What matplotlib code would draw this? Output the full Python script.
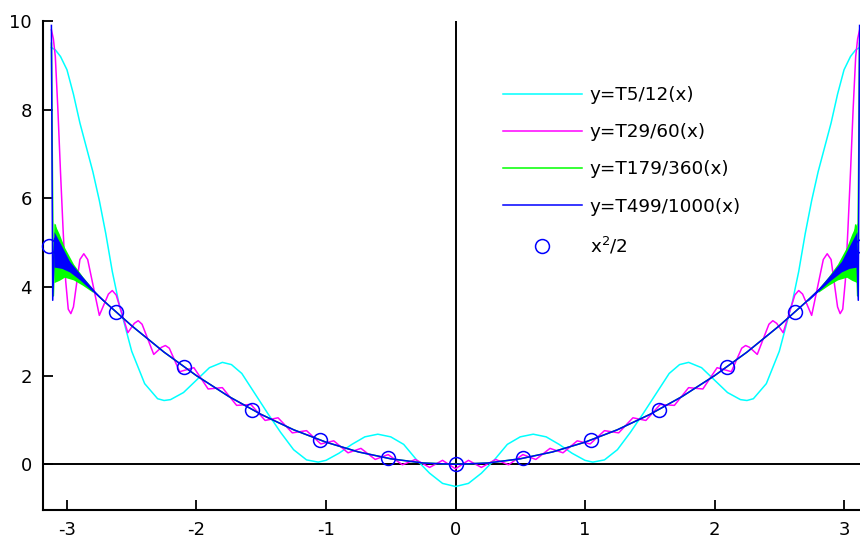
import numpy as np
import matplotlib
matplotlib.use("Agg")
import matplotlib.pyplot as plt

plt.rcParams['axes.unicode_minus'] = False
plt.rcParams['font.family'] = ['DejaVu Sans']

# ---- values (right half, x >= 0; curves are symmetric) ----
cyan_x = [0.0, 0.1, 0.2, 0.3, 0.4, 0.5, 0.6, 0.7, 0.8, 0.9, 1.0, 1.06, 1.15, 1.25,
          1.35, 1.45, 1.55, 1.65, 1.73, 1.8, 1.9, 2.0, 2.1, 2.2, 2.25, 2.3, 2.4,
          2.5, 2.55, 2.6, 2.65, 2.7, 2.75, 2.8, 2.85, 2.9, 2.95, 3.0, 3.05, 3.09, 3.12]
cyan_y = [-0.5, -0.43, -0.2, 0.1, 0.45, 0.62, 0.68, 0.62, 0.45, 0.25, 0.09, 0.05, 0.1, 0.33,
          0.72, 1.15, 1.6, 2.05, 2.25, 2.3, 2.18, 1.9, 1.62, 1.46, 1.44, 1.48, 1.82,
          2.55, 3.1, 3.65, 4.35, 5.2, 5.95, 6.6, 7.15, 7.7, 8.35, 8.9, 9.2, 9.35, 9.4]

magenta_x = [0.0, 0.1, 0.2, 0.31, 0.41, 0.52, 0.62, 0.73, 0.83, 0.94, 1.04, 1.15, 1.26,
             1.37, 1.47, 1.58, 1.69, 1.8, 1.91, 2.02, 2.13, 2.21, 2.24, 2.27, 2.33,
             2.42, 2.45, 2.48, 2.53, 2.62, 2.65, 2.68, 2.75, 2.84, 2.87, 2.9, 2.95, 2.97,
             2.99, 3.01, 3.03, 3.05, 3.07, 3.09, 3.105, 3.12]
magenta_y = [-0.1, 0.09, -0.07, 0.11, -0.01, 0.22, 0.11, 0.36, 0.26, 0.53, 0.46, 0.76, 0.71,
             1.05, 0.99, 1.35, 1.33, 1.73, 1.7, 2.18, 2.09, 2.62, 2.68, 2.64, 2.48,
             3.16, 3.24, 3.18, 2.97, 3.82, 3.92, 3.84, 3.36, 4.62, 4.75, 4.62, 3.55, 3.4,
             3.5, 4.14, 5.3, 6.6, 8.0, 9.2, 9.6, 9.8]

# green and blue lie on top of each other away from the ends
trend_x = [0.0, 0.25, 0.5, 0.75, 1.0, 1.25, 1.5, 1.75, 2.0, 2.25, 2.5, 2.7]
trend_y = [0.0, 0.03, 0.125, 0.28, 0.5, 0.78, 1.125, 1.53, 2.0, 2.53, 3.125, 3.645]

green_end_x = [2.75, 2.85, 2.95, 3.02, 3.06, 3.09, 3.105, 3.12]
green_end_y = [3.78, 4.06, 4.35, 4.56, 4.68, 5.4, 3.8, 9.5]
blue_end_x = [2.8, 2.9, 3.0, 3.05, 3.08, 3.095, 3.11, 3.12]
blue_end_y = [3.92, 4.2, 4.5, 4.65, 4.75, 5.1, 3.7, 9.9]

# envelopes of the dense oscillation near x = +-pi
green_env_x = [2.8, 2.88, 2.95, 3.02, 3.06, 3.1]
green_env_hi = [3.96, 4.24, 4.52, 4.9, 5.2, 5.45]
green_env_lo = [3.88, 4.04, 4.16, 4.22, 4.15, 4.1]
blue_env_x = [2.72, 2.8, 2.9, 2.98, 3.04, 3.1]
blue_env_hi = [3.7, 3.96, 4.3, 4.58, 4.92, 5.25]
blue_env_lo = [3.68, 3.9, 4.16, 4.34, 4.42, 4.45]

circle_x = [-3.1416, -2.618, -2.094, -1.571, -1.047, -0.524, 0.0,
            0.524, 1.047, 1.571, 2.094, 2.618, 3.1416]
circle_y = [4.935, 3.427, 2.193, 1.234, 0.548, 0.137, 0.0,
            0.137, 0.548, 1.234, 2.193, 3.427, 4.935]

labels = ['y=T5/12(x)', 'y=T29/60(x)', 'y=T179/360(x)', 'y=T499/1000(x)', r'x$^2$/2']
colors = ['#00FFFF', '#FF00FF', '#00FF00', '#0000FF']


def mirror(xs, ys):
    """Build the full symmetric curve from its right half."""
    xs = np.asarray(xs, float)
    ys = np.asarray(ys, float)
    if xs[0] == 0:
        return np.concatenate([-xs[::-1], xs[1:]]), np.concatenate([ys[::-1], ys[1:]])
    return np.concatenate([-xs[::-1], xs]), np.concatenate([ys[::-1], ys])


fig = plt.figure(figsize=(8.6, 5.38), dpi=100)
ax = fig.add_axes([43 / 860, 28 / 538, 825 / 860, 489 / 538])

ax.axhline(0, color='black', lw=1.4, zorder=1)
ax.axvline(0, color='black', lw=1.4, zorder=1)

cx, cy = mirror(cyan_x, cyan_y)
ax.plot(cx, cy, color=colors[0], lw=1.1, label=labels[0], zorder=2)

mx, my = mirror(magenta_x, magenta_y)
ax.plot(mx, my, color=colors[1], lw=1.1, label=labels[1], zorder=3)

gx, gy = mirror(trend_x + green_end_x, trend_y + green_end_y)
ax.plot(gx, gy, color=colors[2], lw=1.1, label=labels[2], zorder=4)
for sign in (1, -1):
    ax.fill_between(sign * np.array(green_env_x), green_env_lo, green_env_hi,
                    color=colors[2], lw=0, zorder=4)

bx, by = mirror(trend_x + blue_end_x, trend_y + blue_end_y)
ax.plot(bx, by, color=colors[3], lw=1.1, label=labels[3], zorder=5)
for sign in (1, -1):
    ax.fill_between(sign * np.array(blue_env_x), blue_env_lo, blue_env_hi,
                    color=colors[3], lw=0, zorder=5)

ax.plot(circle_x, circle_y, 'o', mfc='none', mec='#0000FF', ms=10, mew=1.1,
        label=labels[4], zorder=6, clip_on=False)

ax.set_xlim(-3.185, 3.185)
ax.set_ylim(-1.03, 10)
ax.set_xticks([-3, -2, -1, 0, 1, 2, 3])
ax.set_yticks([0, 2, 4, 6, 8, 10])
for side in ('top', 'right'):
    ax.spines[side].set_visible(False)
for side in ('left', 'bottom'):
    ax.spines[side].set_linewidth(1.5)
ax.tick_params(direction='in', length=7, width=1.3, labelsize=13, pad=8)

ax.legend(loc='upper left', bbox_to_anchor=(503 / 860, 1 - 86 / 538),
          bbox_transform=fig.transFigure, frameon=False, fontsize=13.2,
          handlelength=4.3, handletextpad=0.44, labelspacing=1.05, numpoints=1,
          borderaxespad=0, borderpad=0)

fig.savefig('out.png', dpi=100)
